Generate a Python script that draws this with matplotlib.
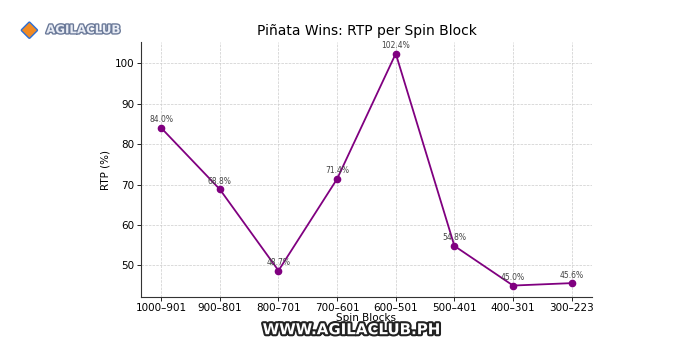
import matplotlib.pyplot as plt
import matplotlib.patheffects as pe

blocks = ["1000–901", "900–801", "800–701", "700–601", "600–501", "500–401", "400–301", "300–223"]
rtp = [84.0, 68.8, 48.7, 71.4, 102.4, 54.8, 45.0, 45.6]

fig = plt.figure(figsize=(7, 3.5), dpi=100)
ax = fig.add_axes([0.201, 0.151, 0.645, 0.729])

x = range(len(blocks))
ax.plot(x, rtp, color="purple", marker="o", ms=4.5, lw=1.3)
for i, v in zip(x, rtp):
    ax.annotate(f"{v:.1f}%", (i, v), xytext=(0, 2.5), textcoords="offset points",
                ha="center", va="bottom", fontsize=5.5, color="#444444")

ax.set_xticks(list(x))
ax.set_xticklabels(blocks)
ax.tick_params(labelsize=7.5, length=3, width=0.6, pad=1.5)
ax.set_title("Piñata Wins: RTP per Spin Block", fontsize=10, pad=5)
ax.set_xlabel("Spin Blocks", fontsize=7.5, labelpad=0)
ax.set_ylabel("RTP (%)", fontsize=7.5, labelpad=3)
ax.grid(True, ls="--", lw=0.5, color="#cccccc")
ax.spines["top"].set_visible(False)
ax.spines["right"].set_visible(False)
for s in ("left", "bottom"):
    ax.spines[s].set_linewidth(0.8)
    ax.spines[s].set_color("#333333")

# branding
fig.text(0.066, 0.915, "AGILACLUB", fontsize=8.5, fontweight="bold", color="#e8ecf5",
         ha="left", va="center",
         path_effects=[pe.withStroke(linewidth=2, foreground="#6b7a99")])
fig.text(0.042, 0.915, "◆", fontsize=14, color="#f08a24", ha="center", va="center",
         path_effects=[pe.withStroke(linewidth=2, foreground="#2a6fd6")])
fig.text(0.502, 0.058, "WWW.AGILACLUB.PH", fontsize=10.8, fontweight="heavy", color="white",
         ha="center", va="center",
         path_effects=[pe.withStroke(linewidth=3, foreground="#222222")])

fig.savefig("out.png", dpi=100)
